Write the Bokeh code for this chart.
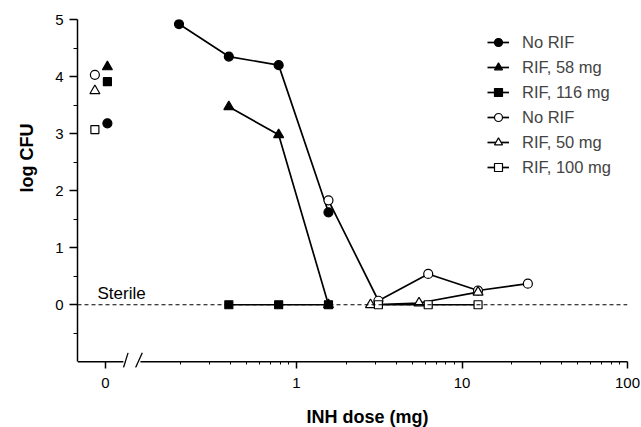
from bokeh.plotting import figure
from bokeh.models import (FixedTicker, Span, Label, Legend, LegendItem, Title,
                          Range1d, CustomJSTickFormatter)
from bokeh.embed import file_html
from bokeh.resources import INLINE

FONT = "Liberation Sans"

# ---- data (INH dose in mg, log CFU) ----
norif_a_dose = [0.195, 0.39, 0.78, 1.56]
norif_a_cfu = [4.92, 4.35, 4.20, 1.62]

rif58_dose = [0.39, 0.78, 1.56]
rif58_cfu = [3.47, 2.98, 0.0]

rif116_dose = [0.39, 0.78, 1.56]
rif116_cfu = [0.0, 0.0, 0.0]

norif_b_dose = [1.56, 3.125, 6.25, 12.5, 25.0]
norif_b_cfu = [1.83, 0.07, 0.54, 0.25, 0.37]

rif50_dose = [2.8, 5.5, 12.5]
rif50_cfu = [0.0, 0.03, 0.22]

rif100_dose = [3.125, 6.25, 12.5]
rif100_cfu = [0.0, 0.0, 0.0]

# untreated controls (INH dose 0)
ctrl_cfu = [3.18, 4.17, 3.91, 4.03, 3.75, 3.07]

series_labels = ["No RIF", "RIF, 58 mg", "RIF, 116 mg", "No RIF", "RIF, 50 mg", "RIF, 100 mg"]
series_markers = ["circle", "triangle", "square", "circle", "triangle", "square"]
series_filled = [True, True, True, False, False, False]

x_tick_values = [0.07, 1, 10, 100]
x_tick_labels = ["0", "1", "10", "100"]
x_minor = [0.2, 0.3, 0.4, 0.5, 0.6, 0.7, 0.8, 0.9,
           2, 3, 4, 5, 6, 7, 8, 9, 20, 30, 40, 50, 60, 70, 80, 90]
y_tick_values = [0, 1, 2, 3, 4, 5]
y_minor = [-0.5, 0.5, 1.5, 2.5, 3.5, 4.5]

# layout constants for the broken dose axis
X_START, X_END = 0.0475, 100
Y_AXIS_BOTTOM, Y_TOP = -1.0, 5.0
Y_START = -1.1
CTRL_FILLED_X = 0.072
CTRL_OPEN_X = 0.0605
BREAK_LO, BREAK_HI = 0.090, 0.114

p = figure(width=641, height=427, x_axis_type="log",
           x_range=Range1d(X_START, X_END), y_range=Range1d(Y_START, Y_TOP),
           output_backend="svg", toolbar_location=None,
           min_border_left=77, min_border_right=14, min_border_top=19,
           min_border_bottom=59)
p.xgrid.visible = False
p.ygrid.visible = False
p.outline_line_color = None

for ax in (p.xaxis[0], p.yaxis[0]):
    ax.axis_line_width = 1.5
    ax.axis_line_color = "black"
    ax.major_tick_line_width = 1.5
    ax.major_tick_line_color = "black"
    ax.minor_tick_line_color = "black"
    ax.minor_tick_line_width = 1
    ax.major_label_text_font = FONT
    ax.major_label_text_font_size = "15px"
    ax.major_label_text_color = "black"

# x axis: line drawn separately (broken), ticks hang from the line at y=-1
p.xaxis.axis_line_color = None
p.xaxis.ticker = FixedTicker(ticks=x_tick_values, minor_ticks=x_minor)
p.xaxis.formatter = CustomJSTickFormatter(
    args=dict(vals=x_tick_values, labs=x_tick_labels),
    code="""
    let best = 0, d = Infinity;
    for (let i = 0; i < vals.length; i++) {
        const dd = Math.abs(Math.log(vals[i]) - Math.log(tick));
        if (dd < d) { d = dd; best = i; }
    }
    return labs[best];
    """)
p.xaxis.major_tick_in = 6
p.xaxis.major_tick_out = 1
p.xaxis.minor_tick_in = 6
p.xaxis.minor_tick_out = -3
p.xaxis.major_label_standoff = 9
# small spacer below the tick labels (pushes the dose title down)
p.xaxis.axis_label = " "
p.xaxis.axis_label_text_font_size = "9px"
p.xaxis.axis_label_standoff = 0

p.yaxis.bounds = (Y_AXIS_BOTTOM, Y_TOP)
p.yaxis.ticker = FixedTicker(ticks=y_tick_values, minor_ticks=y_minor)
p.yaxis.major_tick_in = 0
p.yaxis.minor_tick_in = 0
p.yaxis.major_tick_out = 8
p.yaxis.minor_tick_out = 4
p.yaxis.major_label_standoff = 6

p.add_layout(Title(text="log CFU", align="right", offset=104,
                   vertical_align="middle", standoff=30,
                   text_font=FONT, text_font_style="bold",
                   text_font_size="18px", text_color="black"), "left")
p.add_layout(Title(text="INH dose (mg)", align="left", offset=229,
                   standoff=2, text_font=FONT, text_font_style="bold",
                   text_font_size="18px", text_color="black"), "below")

# broken x axis line and break marks
p.segment(x0=[X_START, BREAK_HI], y0=[Y_AXIS_BOTTOM, Y_AXIS_BOTTOM],
          x1=[BREAK_LO, X_END], y1=[Y_AXIS_BOTTOM, Y_AXIS_BOTTOM],
          line_color="black", line_width=1.5)
p.segment(x0=[BREAK_LO, 0.1065], y0=[-1.105, -1.105],
          x1=[0.096, 0.117], y1=[-0.843, -0.843],
          line_color="black", line_width=1.3)

# sterile reference line
p.add_layout(Span(location=0, dimension="width", line_color="black",
                  line_dash="4 3", line_width=1.2))
p.add_layout(Label(x=20, x_units="screen", y=0, y_offset=2, text="Sterile",
                   text_baseline="bottom", text_font=FONT,
                   text_font_size="17px", text_color="black"))

doses = [norif_a_dose, rif58_dose, rif116_dose, norif_b_dose, rif50_dose, rif100_dose]
cfus = [norif_a_cfu, rif58_cfu, rif116_cfu, norif_b_cfu, rif50_cfu, rif100_cfu]
sizes = {"circle": 9, "triangle": 10, "square": 8}

items = []
for i in range(6):
    m = series_markers[i]
    fill = "black" if series_filled[i] else "white"
    lr = p.line(doses[i], cfus[i], line_color="black", line_width=1.7)
    sr = p.scatter(doses[i], cfus[i], marker=m, size=sizes[m],
                   fill_color=fill, line_color="black", line_width=1.2)
    cx = CTRL_FILLED_X if series_filled[i] else CTRL_OPEN_X
    p.scatter([cx], [ctrl_cfu[i]], marker=m, size=sizes[m],
              fill_color=fill, line_color="black", line_width=1.2)
    items.append(LegendItem(label=series_labels[i], renderers=[lr, sr]))

legend = Legend(items=items, location=(410, 190), label_text_font=FONT,
                label_text_font_size="16.5px", glyph_width=22, glyph_height=20,
                label_height=20, spacing=5, padding=0, margin=0,
                border_line_color=None, background_fill_alpha=0,
                label_standoff=13)
p.add_layout(legend)

open("out.html", "w").write(file_html(p, INLINE))
